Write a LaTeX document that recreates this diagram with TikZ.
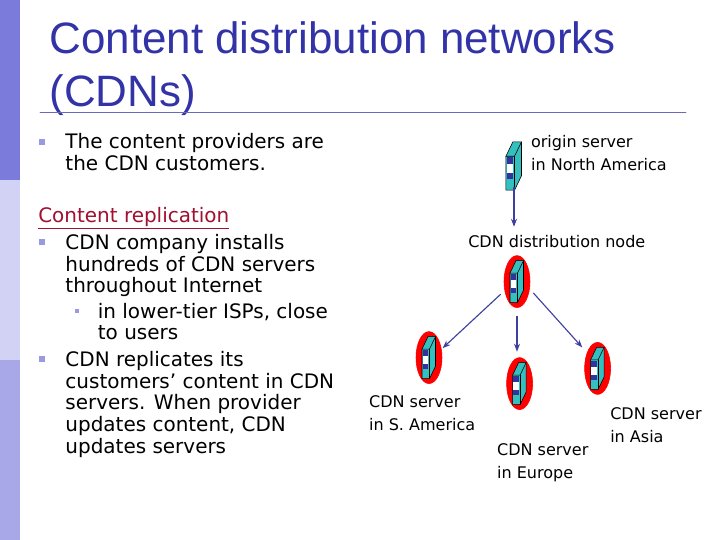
\documentclass[tikz,border=0pt]{standalone}
\usepackage{fontspec}
\setmainfont{DejaVu Sans}
\newfontfamily\titlefont{Liberation Sans}
\usepackage{xcolor}
\usetikzlibrary{arrows.meta,shapes.geometric}
\definecolor{slidedark}{HTML}{7B7BDB}
\definecolor{slidelight}{HTML}{D2D2F5}
\definecolor{slidemid}{HTML}{A8A8E8}
\definecolor{titleblue}{HTML}{3333A8}
\definecolor{rulecolor}{HTML}{6A6AB8}
\definecolor{headred}{HTML}{A01030}
\definecolor{serverteal}{HTML}{36BFBF}
\definecolor{windowblue}{HTML}{3333A0}
\definecolor{linkblue}{HTML}{3F3F9F}
\tikzset{
  bodytext/.style={anchor=north west,inner sep=0pt,align=left,font=\fontsize{14.2}{15.4}\selectfont},
  labeltext/.style={anchor=north west,inner sep=0pt,align=left,font=\fontsize{11.4}{16.3}\selectfont},
  bulletmark/.style={fill=#1,inner sep=0pt,minimum size=0.14cm},
  halo/.style={ellipse,fill=red,draw=red,inner sep=0pt,minimum width=0.65cm,minimum height=1.3cm},
  link/.style={->,linkblue,thick},
  server/.pic={
    \draw[fill=serverteal,line join=round] (-0.175,-0.525) -- (-0.175,0.2125) -- (-0.025,0.525) -- (0.1625,0.525) -- (0.1625,-0.2125) -- (0.0125,-0.525) -- cycle;
    \draw (-0.175,0.2125) -- (0.0125,0.2125) -- (0.1625,0.525);
    \draw (0.0125,0.2125) -- (0.0125,-0.525);
    \fill[windowblue] (-0.16,0.19) rectangle (-0.025,-0.29);
    \fill[white] (-0.16,0.04) rectangle (-0.025,-0.16);
  },
}
\begin{document}
\begin{tikzpicture}[>={Stealth[length=2mm]},line cap=round]
\useasboundingbox (0,0) rectangle (18,13.5);
% side bar
\fill[slidedark] (0,9) rectangle (0.5,13.5);
\fill[slidelight] (0,4.5) rectangle (0.5,9);
\fill[slidemid] (0,0) rectangle (0.5,4.5);
% title
\node[anchor=base west,inner sep=0pt,align=left,text=titleblue,font=\titlefont\fontsize{31.25}{38.2}\selectfont] (title) at (1.23,10.83) {Content distribution networks\\(CDNs)};
\draw[rulecolor,semithick] (1,10.7) -- (17.15,10.7);
% left column
\node[bulletmark=slidemid!70!slidedark] (markA) at (1.05,9.95) {};
\node[bodytext] (provtext) at (1.63,10.17) {The content providers are\\the CDN customers.};
\node[bodytext,text=headred] (headtext) at (0.95,8.32) {\underline{Content replication}};
\node[bulletmark=slidemid!70!slidedark] (markB) at (1.05,7.45) {};
\node[bodytext] (installtext) at (1.63,7.65) {CDN company installs\\hundreds of CDN servers\\throughout Internet};
\node[bulletmark=slidemid!70!slidedark,minimum size=0.11cm] (markC) at (1.92,5.72) {};
\node[bodytext] (ispstext) at (2.44,5.93) {in lower-tier ISPs, close\\to users};
\node[bulletmark=slidemid!70!slidedark] (markD) at (1.05,4.52) {};
\node[bodytext] (replicatext) at (1.63,4.72) {CDN replicates its\\customers’ content in CDN\\servers. When provider\\updates content, CDN\\updates servers};
% servers
\node[minimum width=0.4cm,minimum height=1.05cm,inner sep=0pt] (origin) at (12.85,9.35) {};
\pic[scale=1.15] at (origin) {server};
\node[halo] (dist) at (12.925,6.46) {};
\pic at (dist) {server};
\node[halo] (samerica) at (10.725,4.56) {};
\pic at (samerica) {server};
\node[halo] (europe) at (12.99,3.91) {};
\pic at (europe) {server};
\node[halo] (asia) at (14.94,4.29) {};
\pic at (asia) {server};
% labels
\node[labeltext] (originlabel) at (13.27,10.13) {origin server\\in North America};
\node[labeltext] (distlabel) at (11.7,7.62) {CDN distribution node};
\node[labeltext] (samlabel) at (9.22,3.62) {CDN server\\in S. America};
\node[labeltext] (eurlabel) at (12.42,2.41) {CDN server\\in Europe};
\node[labeltext] (asialabel) at (15.25,3.31) {CDN server\\in Asia};
% arrows
\draw[link,shorten >=6pt] (origin.south) -- (origin.south |- distlabel.north);
\draw[link,shorten <=4pt,shorten >=1pt] (dist.216) -- (samerica.34);
\draw[link,shorten <=6pt,shorten >=4pt] (dist.south) -- (dist.south |- europe.north);
\draw[link,shorten <=4pt,shorten >=5pt] (dist.330) -- (asia.124);
\end{tikzpicture}
\end{document}
